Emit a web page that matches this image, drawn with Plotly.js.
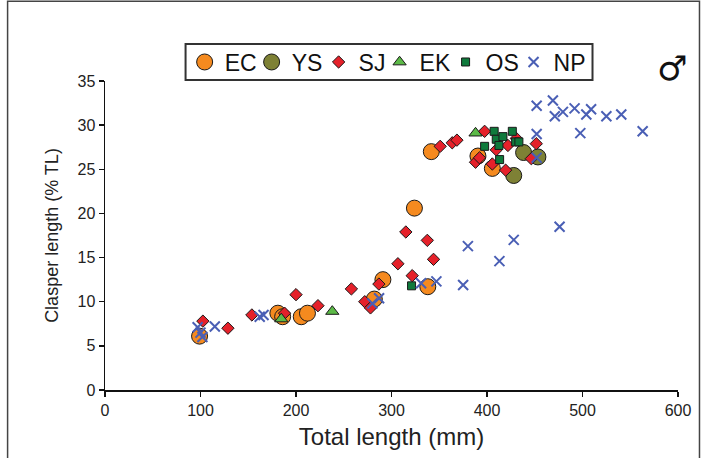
<!DOCTYPE html>
<html>
<head>
<meta charset="utf-8">
<script src="https://cdn.plot.ly/plotly-3.0.1.min.js"></script>
<style>html,body{margin:0;padding:0;background:#fff;}#chart{width:705px;height:458px;}</style>
</head>
<body>
<div id="chart"></div>
<script>
// Total length (mm) and clasper length (% TL) by region
const EC_x = [99, 181, 186, 205.5, 212, 282, 291, 324, 338, 341.7, 390.5, 405.6];
const EC_y = [6.1, 8.7, 8.3, 8.3, 8.7, 10.3, 12.5, 20.6, 11.7, 27.0, 26.5, 25.1];

const YS_x = [428, 438.3, 453.3];
const YS_y = [24.3, 26.9, 26.4];

const SJ_x = [102.5, 128.7, 153.8, 188, 200, 223, 258, 272, 278, 286.8, 306.7, 315, 321.7, 337.5, 344,
              351, 363.6, 368.5, 388, 392.2, 397.5, 405.6, 409.7, 419.5, 421.9, 430.7, 446.4, 451.6];
const SJ_y = [7.8, 7.0, 8.5, 8.7, 10.8, 9.55, 11.45, 10.0, 9.3, 12.0, 14.3, 17.9, 12.95, 16.95, 14.8,
              27.6, 28.0, 28.3, 25.8, 26.3, 29.3, 25.6, 27.2, 24.9, 27.7, 28.5, 26.2, 27.9];

const EK_x = [184.6, 238, 388];
const EK_y = [8.05, 8.9, 29.1];

const OS_x = [321, 397.5, 407.5, 409.7, 412.5, 413.2, 416.7, 426.5, 430, 433.4];
const OS_y = [11.8, 27.6, 29.3, 28.4, 27.7, 26.1, 28.7, 29.3, 28.1, 28.1];

const NP_x = [97, 100, 102, 115, 162, 166, 280, 287, 331, 347, 375, 380, 413, 428, 476,
              452, 452, 452, 469, 471, 479.5, 491.7, 497.7, 504, 509, 525, 540.6, 563];
const NP_y = [7.1, 6.5, 6.0, 7.2, 8.3, 8.5, 9.8, 10.4, 12.1, 12.3, 11.9, 16.3, 14.6, 17.0, 18.5,
              26.3, 29.0, 32.2, 32.8, 31.0, 31.5, 31.9, 29.1, 31.2, 31.8, 31.0, 31.2, 29.3];

const xTicks = [0, 100, 200, 300, 400, 500, 600];
const yTicks = [0, 5, 10, 15, 20, 25, 30, 35];

const edge = {color: '#1a1a1a', width: 1};
const traces = [
  {name: 'EC', x: EC_x, y: EC_y, mode: 'markers', type: 'scatter', legend: 'legend',
   marker: {symbol: 'circle', size: 16, color: '#F58A1F', line: edge}},
  {name: 'YS', x: YS_x, y: YS_y, mode: 'markers', type: 'scatter', legend: 'legend2',
   marker: {symbol: 'circle', size: 16, color: '#7E8135', line: edge}},
  {name: 'SJ', x: SJ_x, y: SJ_y, mode: 'markers', type: 'scatter', legend: 'legend3',
   marker: {symbol: 'diamond', size: 9.5, color: '#E5212A', line: edge}},
  {name: 'EK', x: EK_x, y: EK_y, mode: 'markers', type: 'scatter', legend: 'legend4',
   marker: {symbol: 'triangle-up', size: 11.5, color: '#5CBA47', line: edge}},
  {name: 'OS', x: OS_x, y: OS_y, mode: 'markers', type: 'scatter', legend: 'legend5',
   marker: {symbol: 'square', size: 8, color: '#0F7A3C', line: edge}},
  {name: 'NP', x: NP_x, y: NP_y, mode: 'markers', type: 'scatter', legend: 'legend6',
   marker: {symbol: 'x-thin', size: 10, color: '#4A5FB5', line: {color: '#4A5FB5', width: 2}}}
];

const fontFam = 'Liberation Sans, Arial, Helvetica, sans-serif';
function leg(x) {
  return {orientation: 'h', x: x, y: 1.131, xanchor: 'left', yanchor: 'top',
          borderwidth: 0, bgcolor: 'rgba(0,0,0,0)',
          font: {family: fontFam, size: 23, color: '#111'}, itemwidth: 30};
}
const legX = [0.1390, 0.2559, 0.3728, 0.4792, 0.5944, 0.7130];

const layout = {
  width: 705, height: 458,
  margin: {l: 105.4, r: 26.5, t: 81, b: 67.5, pad: 0},
  paper_bgcolor: '#ffffff', plot_bgcolor: '#ffffff',
  font: {family: fontFam, color: '#222', size: 16},
  showlegend: true,
  legend: leg(legX[0]), legend2: leg(legX[1]), legend3: leg(legX[2]),
  legend4: leg(legX[3]), legend5: leg(legX[4]), legend6: leg(legX[5]),
  xaxis: {range: [0, 600], tickvals: xTicks, ticktext: xTicks.map(String),
          showgrid: false, zeroline: false, showline: true, linecolor: '#111', linewidth: 1.5,
          ticks: 'outside', ticklen: 5, tickwidth: 1.5, tickcolor: '#111',
          tickfont: {size: 16, color: '#222'},
          title: {text: 'Total length (mm)', font: {size: 24, color: '#222'}, standoff: 10}},
  yaxis: {range: [0, 35], tickvals: yTicks, ticktext: yTicks.map(String),
          showgrid: false, zeroline: false, showline: true, linecolor: '#111', linewidth: 1.5,
          ticks: 'outside', ticklen: 5, tickwidth: 1.5, tickcolor: '#111',
          tickfont: {size: 16, color: '#222'},
          title: {text: 'Clasper length (% TL)', font: {size: 18, color: '#222'}, standoff: 14}},
  annotations: [{xref: 'paper', yref: 'paper', x: 0.9887, y: 1.042, xanchor: 'center', yanchor: 'middle',
                 text: '♂', showarrow: false,
                 font: {family: 'DejaVu Sans, sans-serif', size: 34, color: '#111'}}],
  shapes: [
    {type: 'rect', xref: 'paper', yref: 'paper', x0: -0.17, x1: 1.0375, y0: -0.35, y1: 1.258,
     line: {color: '#444', width: 1.5}},
    {type: 'rect', xref: 'paper', yref: 'paper', x0: 0.1406, x1: 0.8508, y0: 1.0032, y1: 1.1195,
     line: {color: '#333', width: 2}}
  ]
};

Plotly.newPlot('chart', traces, layout, {displayModeBar: false, staticPlot: true});
</script>
</body>
</html>
